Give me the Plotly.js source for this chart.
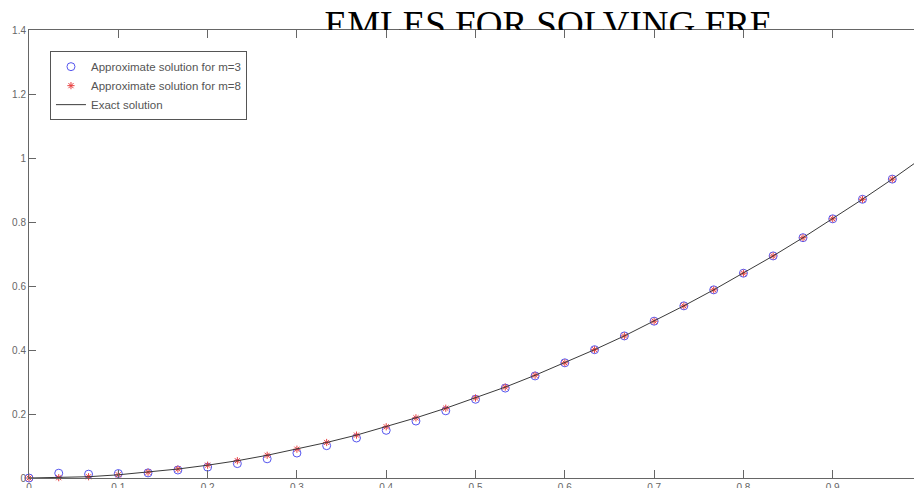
<!DOCTYPE html>
<html>
<head>
<meta charset="utf-8">
<script src="https://cdn.plot.ly/plotly-3.0.1.min.js"></script>
<style>html,body{margin:0;padding:0;background:#fff;}#chart{width:914px;height:488px;}</style>
</head>
<body>
<div id="chart"></div>
<script>
// x grid (t)
var xs = [0, 0.0333, 0.0667, 0.1, 0.1333, 0.1667, 0.2, 0.2333, 0.2667, 0.3, 0.3333, 0.3667, 0.4, 0.4333, 0.4667, 0.5, 0.5333, 0.5667, 0.6, 0.6333, 0.6667, 0.7, 0.7333, 0.7667, 0.8, 0.8333, 0.8667, 0.9, 0.9333, 0.9667, 1.0];
// Approximate solution for m=3 (blue circles)
var approxM3 = [0, 0.015, 0.012, 0.014, 0.016, 0.025, 0.034, 0.045, 0.06, 0.078, 0.101, 0.125, 0.149, 0.178, 0.21, 0.246, 0.281, 0.319, 0.36, 0.401, 0.444, 0.49, 0.538, 0.588, 0.64, 0.694, 0.751, 0.81, 0.871, 0.934, 1.0];
// Approximate solution for m=8 (red stars)
var approxM8 = [0, 0.001, 0.004, 0.01, 0.018, 0.028, 0.04, 0.054, 0.071, 0.09, 0.111, 0.134, 0.16, 0.188, 0.218, 0.25, 0.284, 0.321, 0.36, 0.401, 0.444, 0.49, 0.538, 0.588, 0.64, 0.694, 0.751, 0.81, 0.871, 0.934, 1.0];
// Exact solution (line)
var exactY = [0, 0.001, 0.004, 0.01, 0.018, 0.028, 0.04, 0.054, 0.071, 0.09, 0.111, 0.134, 0.16, 0.188, 0.218, 0.25, 0.284, 0.321, 0.36, 0.401, 0.444, 0.49, 0.538, 0.588, 0.64, 0.694, 0.751, 0.81, 0.871, 0.934, 1.0];
var seriesNames = ['Approximate solution for m=3', 'Approximate solution for m=8', 'Exact solution'];
var titleText = 'EMLES FOR SOLVING FRE';
var xTickVals = [0, 0.1, 0.2, 0.3, 0.4, 0.5, 0.6, 0.7, 0.8, 0.9];
var xTickText = ['0', '0.1', '0.2', '0.3', '0.4', '0.5', '0.6', '0.7', '0.8', '0.9'];
var yTickVals = [0, 0.2, 0.4, 0.6, 0.8, 1.0, 1.2, 1.4];
var yTickText = ['0', '0.2', '0.4', '0.6', '0.8', '1', '1.2', '1.4'];

var traces = [
  {x: xs, y: approxM3, name: seriesNames[0], type: 'scatter', mode: 'markers', cliponaxis: false,
   marker: {symbol: 'circle-open', size: 8, color: '#5555ee', line: {width: 1, color: '#5555ee'}}},
  {x: xs, y: approxM8, name: seriesNames[1], type: 'scatter', mode: 'markers', cliponaxis: false,
   marker: {symbol: 'asterisk-open', size: 6, color: '#e84040', line: {width: 1, color: '#e84040'}}},
  {x: xs, y: exactY, name: seriesNames[2], type: 'scatter', mode: 'lines',
   line: {color: '#3a3a3a', width: 1}},
  {x: [0.587], y: [0.09], text: [titleText], type: 'scatter', mode: 'text', xaxis: 'x2', yaxis: 'y2',
   cliponaxis: true, showlegend: false, hoverinfo: 'skip', textposition: 'middle center',
   textfont: {family: 'Liberation Serif, Times New Roman, serif', size: 37, color: '#000'}}
];

var layout = {
  width: 914, height: 488,
  margin: {l: 29, r: 0, t: 0, b: 10, pad: 0},
  paper_bgcolor: '#fff', plot_bgcolor: 'rgba(0,0,0,0)',
  showlegend: true,
  font: {family: 'Liberation Sans, Arial, sans-serif', size: 10, color: '#555'},
  xaxis: {domain: [0, 1], anchor: 'y', range: [0, 0.991], tickvals: xTickVals, ticktext: xTickText,
    showgrid: false, zeroline: false, showline: true, linecolor: '#666', linewidth: 1,
    mirror: 'ticks', ticks: 'inside', ticklen: 8, tickcolor: '#666', tickwidth: 1,
    tickfont: {size: 10, color: '#666'}},
  yaxis: {domain: [0, 448 / 478], anchor: 'x', range: [0, 1.4], tickvals: yTickVals, ticktext: yTickText,
    showgrid: false, zeroline: false, showline: true, linecolor: '#666', linewidth: 1,
    ticks: 'inside', ticklen: 7, tickcolor: '#666', tickwidth: 1,
    tickfont: {size: 10, color: '#666'}},
  xaxis2: {domain: [0, 1], anchor: 'y2', range: [0, 1], visible: false, fixedrange: true},
  yaxis2: {domain: [448 / 478, 1], anchor: 'x2', range: [0, 1], visible: false, fixedrange: true},
  legend: {x: 0.0237, y: 0.893, xanchor: 'left', yanchor: 'top', bgcolor: '#fff',
    bordercolor: '#555', borderwidth: 1, font: {size: 11.5, color: '#555'},
    tracegroupgap: 0, itemwidth: 30}
};

Plotly.newPlot('chart', traces, layout, {staticPlot: true, displayModeBar: false});
</script>
</body>
</html>
